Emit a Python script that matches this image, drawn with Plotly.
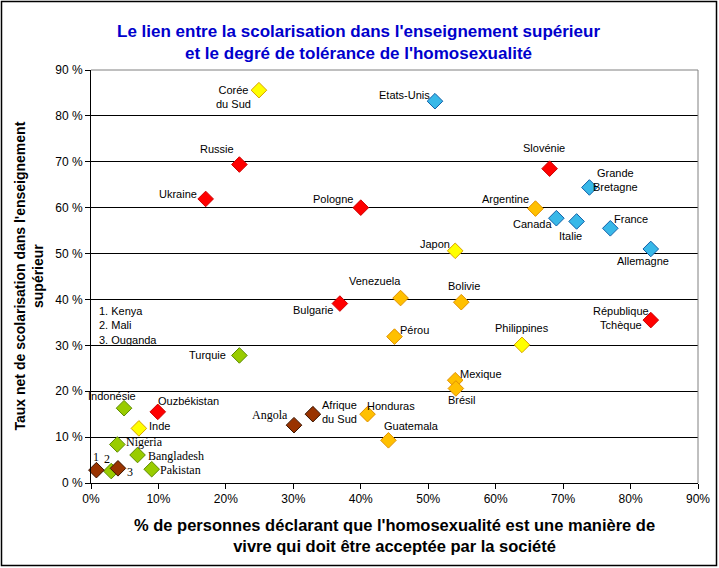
import plotly.graph_objects as go

# ---------------- data ----------------
countries = ["Corée du Sud", "Etats-Unis", "Russie", "Ukraine", "Pologne", "Slovénie",
             "Grande Bretagne", "Argentine", "Canada", "Italie", "France", "Allemagne",
             "Japon", "Venezuela", "Bolivie", "Bulgarie", "Pérou", "Philippines",
             "République Tchèque", "Turquie", "Mexique", "Brésil", "Honduras", "Guatemala",
             "Afrique du Sud", "Angola", "Indonésie", "Ouzbékistan", "Inde", "Nigéria",
             "Bangladesh", "Pakistan", "Kenya", "Mali", "Ouganda"]
acceptance = [24.9, 51.0, 22.0, 17.0, 40.0, 68.0,
              73.9, 65.9, 69.0, 72.0, 77.0, 83.0,
              54.0, 45.9, 54.9, 36.9, 45.0, 63.9,
              83.0, 22.0, 54.0, 54.1, 41.0, 44.1,
              32.9, 30.1, 4.9, 9.9, 7.1, 3.9,
              6.9, 9.0, 0.8, 3.0, 4.0]
enrolment = [85.6, 83.2, 69.4, 61.9, 60.0, 68.5,
             64.4, 59.8, 57.7, 57.0, 55.5, 51.0,
             50.6, 40.3, 39.4, 39.1, 31.9, 30.1,
             35.5, 27.8, 22.4, 20.6, 15.0, 9.3,
             15.0, 12.6, 16.3, 15.5, 11.9, 8.4,
             6.1, 3.0, 2.8, 2.6, 3.2]
group = ["yellow", "blue", "red", "red", "red", "red",
         "blue", "orange", "blue", "blue", "blue", "blue",
         "yellow", "orange", "orange", "red", "orange", "yellow",
         "red", "green", "orange", "orange", "orange", "orange",
         "brown", "brown", "green", "red", "yellow", "green",
         "green", "green", "brown", "green", "brown"]
point_labels = ["Corée<br>du Sud", "Etats-Unis", "Russie", "Ukraine", "Pologne", "Slovénie",
                "Grande<br>Bretagne", "Argentine", "Canada", "Italie", "France", "Allemagne",
                "Japon", "Venezuela", "Bolivie", "Bulgarie", "Pérou", "Philippines",
                "République<br>Tchèque", "Turquie", "Mexique", "Brésil", "Honduras", "Guatemala",
                "Afrique<br>du Sud", "Angola", "Indonésie", "Ouzbékistan", "Inde", "Nigéria",
                "Bangladesh", "Pakistan", "1", "2", "3"]
ticks = [0, 10, 20, 30, 40, 50, 60, 70, 80, 90]
x_ticktext = [f"{t}%" for t in ticks]
y_ticktext = [f"{t} %" for t in ticks]
title_text = "Le lien entre la scolarisation dans l'enseignement supérieur<br>et le degré de tolérance de l'homosexualité"
x_title = "% de personnes déclarant que l'homosexualité est une manière de<br>vivre qui doit être acceptée par la société"
y_title = "Taux net de scolarisation dans l'enseignement<br>supérieur"
note_text = "1. Kenya<br>2. Mali<br>3. Ouganda"

# ---------------- styles ----------------
palette = {
    "red": ("#FF0000", "#CC0000"),
    "blue": ("#38B8E8", "#1060A8"),
    "yellow": ("#FFFF00", "#D8A000"),
    "orange": ("#FFC000", "#E09000"),
    "green": ("#99CC00", "#5C8A00"),
    "brown": ("#993300", "#3A1400"),
}
# label offsets in pixels (dx right, dy down) and font kind
label_pos = {
    "Corée du Sud": (-25, 7, "s"), "Etats-Unis": (-30, -6, "s"), "Russie": (-22, -16, "s"),
    "Ukraine": (-28, -5, "s"), "Pologne": (-28, -9, "s"), "Slovénie": (-6, -21, "s"),
    "Grande Bretagne": (26, -7, "s"), "Argentine": (-30, -10, "s"), "Canada": (-24, 6, "s"),
    "Italie": (-6, 15, "s"), "France": (21, -9, "s"), "Allemagne": (-8, 12, "s"),
    "Japon": (-20, -7, "s"), "Venezuela": (-26, -17, "s"), "Bolivie": (3, -16, "s"),
    "Bulgarie": (-27, 6, "s"), "Pérou": (20, -7, "s"), "Philippines": (0, -17, "s"),
    "République Tchèque": (-30, -2, "s"), "Turquie": (-32, 0, "s"), "Mexique": (26, -6, "s"),
    "Brésil": (6, 12, "s"), "Honduras": (23, -8, "s"), "Guatemala": (23, -14, "s"),
    "Afrique du Sud": (27, -2, "s"), "Angola": (-24, -10, "t"), "Indonésie": (-12, -12, "s"),
    "Ouzbékistan": (31, -11, "s"), "Inde": (21, -2, "s"), "Nigéria": (27, -2, "t"),
    "Bangladesh": (38, 1, "t"), "Pakistan": (29, 1, "t"), "Kenya": (0, -13, "t"),
    "Mali": (-4, -12, "t"), "Ouganda": (12, 4, "t"),
}
SANS = "Liberation Sans, Arial, sans-serif"
SERIF = "Liberation Serif, Times New Roman, serif"

W, H = 719, 568
ML, MR, MT, MB = 91, 21, 70, 85
PW, PH = W - ML - MR, H - MT - MB

fig = go.Figure()
for g in ["red", "blue", "yellow", "orange", "green", "brown"]:
    idx = [i for i, v in enumerate(group) if v == g]
    fig.add_trace(go.Scatter(
        x=[acceptance[i] for i in idx], y=[enrolment[i] for i in idx],
        mode="markers", name=g, showlegend=False,
        marker=dict(symbol="diamond", size=12, color=palette[g][0],
                    line=dict(color=palette[g][1], width=1)),
        cliponaxis=False, hoverinfo="skip"))

annotations = []
for c, xv, yv, lab in zip(countries, acceptance, enrolment, point_labels):
    dx, dy, kind = label_pos[c]
    annotations.append(dict(
        x=xv, y=yv, xref="x", yref="y", text=lab, showarrow=False,
        xshift=dx, yshift=-dy, align="center",
        font=dict(family=SANS if kind == "s" else SERIF,
                  size=11 if kind == "s" else 12, color="black")))

annotations.append(dict(x=(97 - ML) / PW, y=(H - MB - 325) / PH, xref="paper", yref="paper",
                        text=note_text, showarrow=False, xanchor="left", yanchor="middle",
                        align="left", font=dict(family=SANS, size=11, color="black")))
annotations.append(dict(x=(358 - ML) / PW, y=(H - MB - 42.5) / PH, xref="paper", yref="paper",
                        text="<b>" + title_text + "</b>", showarrow=False,
                        xanchor="center", yanchor="middle", align="center",
                        font=dict(family=SANS, size=17, color="#0000CC")))
annotations.append(dict(x=(394 - ML) / PW, y=(H - MB - 535) / PH, xref="paper", yref="paper",
                        text="<b>" + x_title + "</b>", showarrow=False,
                        xanchor="center", yanchor="middle", align="center",
                        font=dict(family=SANS, size=16.5, color="black")))
annotations.append(dict(x=(28 - ML) / PW, y=0.5, xref="paper", yref="paper",
                        text="<b>" + y_title + "</b>", showarrow=False, textangle=-90,
                        xanchor="center", yanchor="middle", align="center",
                        font=dict(family=SANS, size=14, color="black")))

shapes = [
    dict(type="line", xref="paper", yref="paper", x0=0, x1=1, y0=1, y1=1,
         line=dict(color="#808080", width=1), layer="above"),
    dict(type="line", xref="paper", yref="paper", x0=1, x1=1, y0=0, y1=1,
         line=dict(color="#808080", width=1), layer="above"),
    dict(type="rect", xref="paper", yref="paper",
         x0=(1.5 - ML) / PW, x1=(716.5 - ML) / PW,
         y0=(H - MB - 565.5) / PH, y1=(H - MB - 1.5) / PH,
         line=dict(color="black", width=1.5), layer="above"),
]

fig.update_layout(
    width=W, height=H, margin=dict(l=ML, r=MR, t=MT, b=MB, autoexpand=False),
    paper_bgcolor="white", plot_bgcolor="white",
    annotations=annotations, shapes=shapes, showlegend=False,
    xaxis=dict(range=[0, 90], tickmode="array", tickvals=ticks, ticktext=x_ticktext,
               automargin=False,
               showgrid=False, zeroline=False, showline=True, linecolor="black", linewidth=1,
               ticks="outside", ticklen=5, tickcolor="black",
               tickfont=dict(family=SANS, size=12, color="black")),
    yaxis=dict(range=[0, 90], tickmode="array", tickvals=ticks, ticktext=y_ticktext,
               automargin=False,
               showgrid=True, gridcolor="black", gridwidth=1, zeroline=False, showline=True,
               linecolor="black", linewidth=1, ticks="outside", ticklen=5,
               tickcolor="black", tickfont=dict(family=SANS, size=12, color="black")),
)

fig.write_html("out.html")
